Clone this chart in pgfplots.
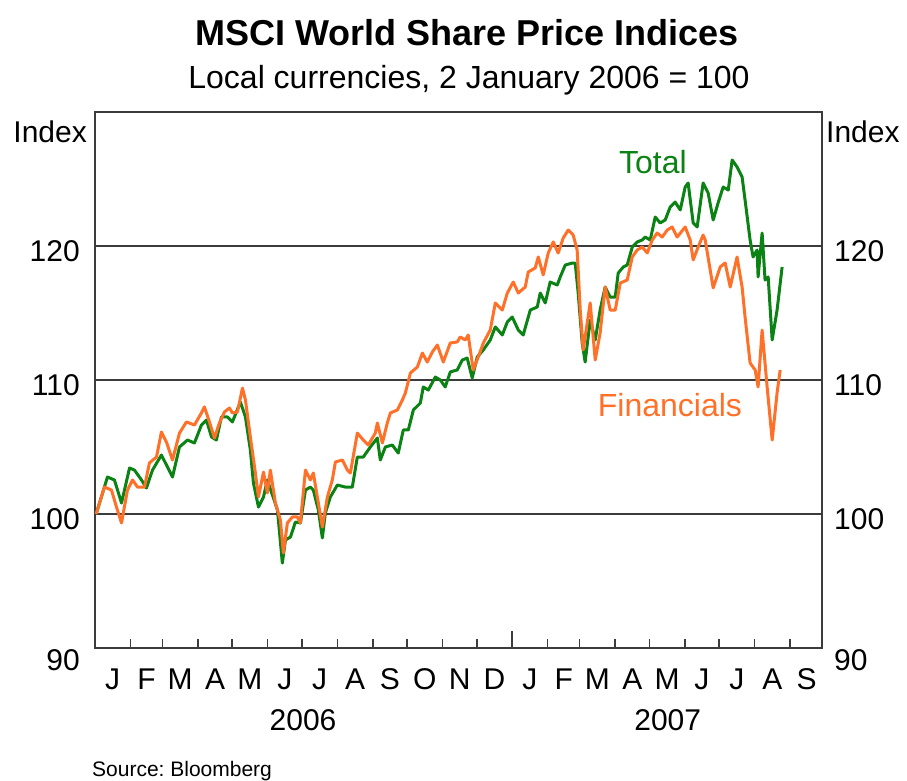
\documentclass[border=0pt]{standalone}
\usepackage{fontspec}
\setmainfont{Liberation Sans}
\usepackage{pgfplots}
\pgfplotsset{compat=1.18}
\definecolor{tgreen}{RGB}{10,130,20}
\definecolor{forange}{RGB}{255,112,40}
\definecolor{axgray}{RGB}{60,60,60}
\newcommand{\tickfont}{\fontsize{30bp}{36bp}\selectfont}
\frenchspacing
\begin{document}
\begin{tikzpicture}
\begin{axis}[
  name=main,
  scale only axis, width=727bp, height=536bp,
  xmin=0, xmax=636, ymin=90, ymax=130,
  clip=false,
  axis line style={axgray, line width=1.6bp},
  xtick={15.5,45,74.5,105,135.5,166,196.5,227.5,258,288.5,319,349.5,380.5,410,439.5,470,500.5,531,561.5,592.5,622.5},
  xticklabels={J,F,M,A,M,J,J,A,S,O,N,D,J,F,M,A,M,J,J,A,S},
  minor xtick={31,59,90,120,151,181,212,243,273,304,334,365,396,424,455,485,516,546,577,608},
  major tick length=0pt,
  minor tick length=9bp,
  tick align=inside,
  xtick pos=bottom, ytick pos=left,
  tick style={axgray, line width=1.5bp},
  extra x ticks={365},
  extra x tick labels={},
  extra x tick style={major tick length=17bp},
  ytick={100,110,120},
  extra y ticks={90},
  extra y tick style={yticklabel style={yshift=-7bp}},
  ymajorgrids,
  grid style={axgray, line width=1.3bp},
  /pgf/number format/assume math mode=true,
  xticklabel style={font=\tickfont, anchor=base, yshift=-41bp},
  yticklabel style={font=\tickfont, anchor=east, inner sep=0pt, xshift=-15bp, yshift=-5bp},
]
\addplot[tgreen, line width=3bp, line join=round] coordinates {
(1,100.0) (10.9,102.76) (17.0,102.54) (23.2,100.82) (30.2,103.43) (34.5,103.28) (40.7,102.54) (45.0,101.94) (50.3,103.28) (58.1,104.40) (62.5,103.66) (67.8,102.76) (73.9,105.00) (80.9,105.52) (87.0,105.30) (93.1,106.64) (97.5,107.01) (101.9,105.75) (106.2,105.52) (110.6,107.24) (115.8,107.24) (120.2,106.87) (127.2,108.36) (131.6,107.24) (135.9,104.78) (138.6,102.31) (143.0,100.52) (147.4,101.27) (150.8,102.54) (155.2,101.42) (159.6,100.30) (163.9,96.34) (166.6,98.06) (171.0,98.28) (175.3,99.40) (179.7,99.33) (184.1,101.79) (188.4,102.01) (191.0,101.79) (195.4,100.30) (198.9,98.21) (201.5,100.07) (205.9,101.27) (212.0,102.16) (219.0,102.01) (225.1,102.01) (229.5,104.25) (234.7,104.25) (240.9,105.00) (247.0,105.67) (249.6,104.03) (254.0,105.00) (260.1,105.15) (265.3,104.55) (269.7,106.27) (274.1,106.27) (278.5,107.76) (284.6,108.28) (287.2,109.48) (291.6,109.25) (297.7,110.22) (302.1,110.00) (306.4,109.48) (310.8,110.60) (316.9,110.75) (321.3,111.49) (325.6,111.64) (330.0,110.15) (334.4,111.72) (339.7,112.24) (345.8,112.99) (350.2,113.96) (356.3,113.36) (360.7,114.33) (365.0,114.70) (370.3,113.73) (374.6,113.36) (380.8,115.22) (386.9,115.45) (389.5,116.49) (393.9,115.75) (398.2,117.31) (404.4,117.09) (407.0,117.69) (411.4,118.58) (417.5,118.73) (420.1,118.73) (422.7,116.49) (426.2,112.76) (428.8,111.34) (433.2,114.48) (437.6,112.99) (441.9,115.22) (446.3,116.94) (450.7,116.19) (455.1,116.19) (457.7,117.98) (462.1,118.43) (465.6,118.58) (470.0,119.92) (474.3,120.30) (478.7,120.45) (481.3,120.67) (485.7,120.45) (490.1,122.16) (494.4,121.72) (498.8,121.94) (503.2,122.91) (507.5,123.28) (512.0,122.69) (516.3,124.40) (518.9,124.70) (523.3,121.72) (526.8,121.42) (532.0,124.70) (536.4,123.96) (540.8,121.94) (545.1,123.21) (549.5,124.40) (554.0,124.18) (557.4,126.42) (561.7,125.90) (566.1,125.15) (568.7,123.43) (573.1,120.45) (575.7,119.18) (579.2,119.70) (580.1,117.69) (583.6,120.97) (586.2,117.46) (588.9,117.69) (592.4,112.99) (596.7,115.22) (601.1,118.43)
};
\addplot[forange, line width=3bp, line join=round] coordinates {
(1,100.0) (8.3,102.01) (14.4,101.79) (18.8,100.52) (23.2,99.33) (28.4,101.79) (32.8,102.54) (37.2,102.01) (43.3,102.01) (47.6,103.81) (53.8,104.25) (58.1,106.12) (62.5,105.37) (67.8,104.03) (73.9,106.04) (80.0,106.87) (87.0,106.64) (93.1,107.54) (95.7,107.99) (100.1,106.87) (104.5,105.67) (108.8,106.79) (113.2,107.61) (117.6,107.91) (120.2,107.54) (124.6,107.61) (129.0,109.40) (131.6,108.51) (135.9,105.75) (140.3,103.06) (143.0,101.27) (147.4,103.13) (150.8,101.57) (153.4,103.28) (157.8,100.82) (162.2,99.55) (164.8,97.09) (168.3,99.33) (172.7,99.78) (177.0,99.78) (179.7,99.33) (184.1,103.28) (188.4,102.54) (191.0,103.06) (195.4,100.82) (198.9,99.03) (203.3,101.27) (207.6,102.54) (210.3,103.88) (216.4,104.03) (220.8,103.28) (223.4,103.06) (229.5,106.04) (234.7,105.52) (239.1,105.15) (245.2,106.04) (247.0,106.79) (251.4,105.30) (255.7,106.79) (258.4,107.54) (264.5,107.76) (268.9,108.51) (271.5,109.03) (275.9,110.52) (282.0,110.97) (286.4,112.01) (290.7,111.34) (295.1,112.09) (299.5,112.61) (304.7,111.34) (310.8,112.76) (316.9,112.84) (319.5,113.21) (323.9,112.99) (326.5,113.36) (330.0,111.27) (330.9,110.75) (335.3,111.72) (339.7,112.76) (345.8,113.73) (350.2,115.75) (356.3,115.22) (360.7,116.49) (365.9,117.31) (370.3,116.49) (376.4,116.94) (379.0,118.06) (385.1,118.36) (387.8,119.18) (392.1,117.84) (396.5,119.48) (400.9,120.30) (405.2,119.48) (409.6,120.60) (414.0,121.19) (418.3,120.82) (421.8,119.70) (424.5,115.22) (427.1,112.24) (433.2,115.75) (437.6,111.49) (441.9,113.51) (446.3,116.94) (450.7,115.22) (455.1,115.22) (459.5,117.24) (465.6,117.46) (470.0,119.18) (474.3,119.70) (478.7,119.93) (483.1,119.48) (487.5,120.45) (491.8,120.97) (496.2,120.67) (500.6,121.19) (504.9,121.42) (509.3,120.67) (516.3,121.42) (520.7,120.45) (523.3,118.96) (527.7,119.93) (532.0,120.82) (533.8,120.45) (540.8,116.87) (546.9,118.43) (551.3,118.73) (555.7,116.94) (561.7,119.18) (566.1,116.94) (568.7,114.70) (573.1,111.27) (577.5,110.75) (580.1,109.48) (583.6,113.73) (588.0,109.48) (592.4,105.52) (596.7,109.03) (599.4,110.75)
};
\node[font=\fontsize{32bp}{38bp}\selectfont, text=tgreen] at (axis cs:488,126.27) {Total};
\node[font=\fontsize{32bp}{38bp}\selectfont, text=forange] at (axis cs:503,108.13) {Financials};
\node[font=\tickfont, anchor=base] at (axis cs:182,90) [yshift=-82bp] {2006};
\node[font=\tickfont, anchor=base] at (axis cs:501,90) [yshift=-82bp] {2007};
\node[font=\bfseries\fontsize{36bp}{41bp}\selectfont, anchor=base] at (rel axis cs:0.5,1) [xshift=8.5bp, yshift=67bp] {MSCI World Share Price Indices};
\node[font=\fontsize{32bp}{38bp}\selectfont, anchor=base] at (rel axis cs:0.5,1) [xshift=10.5bp, yshift=24bp] {Local currencies, 2 January 2006 = 100};
\node[font=\tickfont, anchor=base east, inner sep=0pt] at (rel axis cs:0,1) [xshift=-8bp, yshift=-30bp] {Index};
\node[font=\tickfont, anchor=base west, inner sep=0pt] at (rel axis cs:1,1) [xshift=4bp, yshift=-30bp] {Index};
\node[font=\fontsize{21bp}{25bp}\selectfont, anchor=base west, inner sep=0pt] at (rel axis cs:0,0) [xshift=-3bp, yshift=-128bp] {Source: Bloomberg};
\end{axis}
\begin{axis}[
  scale only axis, width=727bp, height=536bp,
  xmin=0, xmax=636, ymin=90, ymax=130,
  hide x axis,
  axis y line*=right,
  y axis line style={draw=none},
  major tick length=0pt,
  ytick={100,110,120},
  extra y ticks={90},
  extra y tick style={yticklabel style={yshift=-7bp}},
  /pgf/number format/assume math mode=true,
  yticklabel style={font=\tickfont, anchor=west, inner sep=0pt, xshift=12bp, yshift=-5bp},
]
\addplot[draw=none] coordinates {(0,90) (636,130)};
\end{axis}
\path (main.south west) ++(-95bp,-132bp) rectangle ++(907bp,780bp);
\end{tikzpicture}
\end{document}
